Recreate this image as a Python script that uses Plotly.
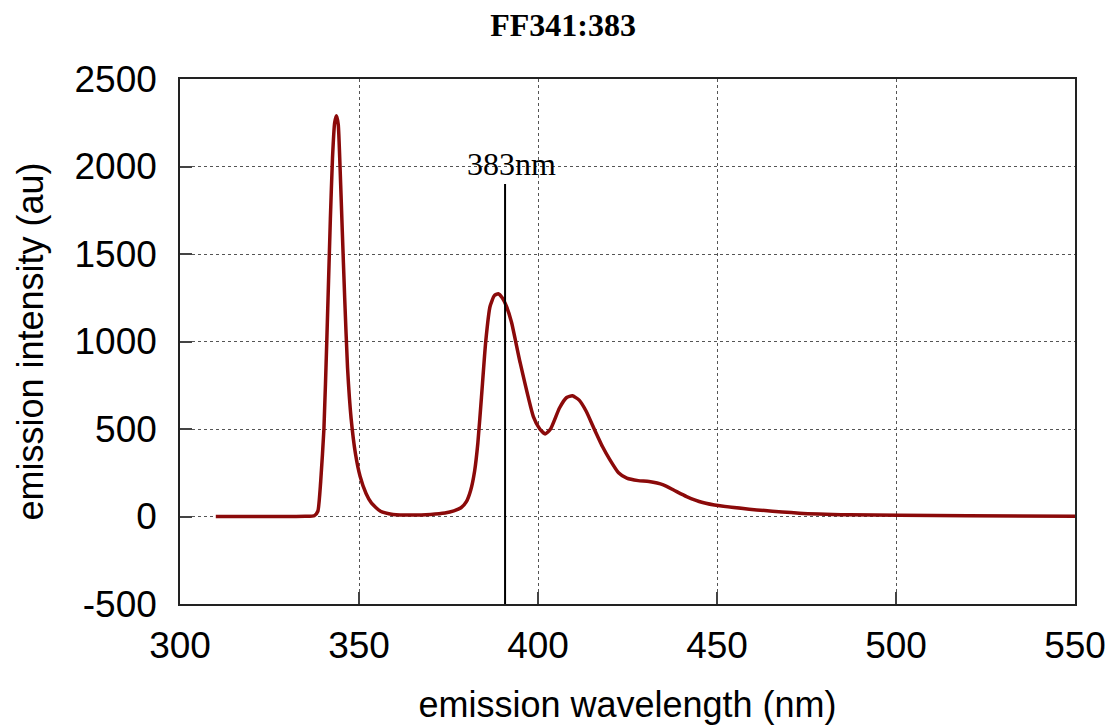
import plotly.graph_objects as go

# Emission spectrum
wavelength = [310, 320, 330, 335, 337.5, 338.5, 339.3, 340.2, 341.0, 342.0, 342.6, 343.2, 343.7,
              344.2, 344.7, 345.3, 346.0, 346.8, 347.8, 349.0, 350.3, 352.0, 353.5, 356.0, 359.5,
              365, 370, 374, 376.5, 378.5, 380.0, 381.2, 382.3, 383.2, 384.2, 385.4, 386.6,
              387.8, 388.9, 390.0, 391.2, 392.6, 395.0, 398.7, 400.5, 402.0, 403.5, 406.0,
              408.0, 409.6, 411.5, 413.5, 415.4, 418.0, 420.1, 422.5, 424.8, 428.0, 431.0,
              435.0, 438.0, 441.5, 446.0, 450.8, 459.0, 473.0, 487.0, 501.0, 520.0, 550.0]
intensity = [0, 0, 0, 1, 4, 30, 200, 500, 1000, 1700, 2050, 2250, 2290,
             2240, 2000, 1650, 1250, 850, 560, 360, 230, 130, 76, 30, 12,
             8, 12, 20, 32, 50, 85, 150, 260, 420, 680, 1000, 1200,
             1262, 1273, 1250, 1200, 1110, 880, 571, 500, 472, 500, 620,
             680, 690, 665, 600, 514, 400, 324, 250, 219, 205, 200,
             181, 150, 114, 80, 61, 42, 19, 10, 7, 4, 2]

marker_wl = 390.8
marker_top = 1900
marker_label = "383nm"

x_ticks = [300, 350, 400, 450, 500, 550]
y_ticks = [-500, 0, 500, 1000, 1500, 2000, 2500]
y_tick_text = ["-500", "0", "500", "1000", "1500", "2000", "2500"]

fig = go.Figure()
fig.add_trace(go.Scatter(
    x=wavelength, y=intensity, mode="lines",
    line=dict(color="#8b0a0a", width=3.5, shape="spline", smoothing=0.5),
    showlegend=False, hoverinfo="skip"))

fig.add_shape(type="line", x0=marker_wl, x1=marker_wl, y0=-500, y1=marker_top,
              xref="x", yref="y", line=dict(color="black", width=2))
fig.add_annotation(x=marker_wl + 1.7, y=2015, text=marker_label, showarrow=False,
                   font=dict(family="Liberation Serif, Times New Roman, serif", size=32, color="black"),
                   xanchor="center", yanchor="middle")

axis_common = dict(showline=True, mirror=True, linecolor="#222", linewidth=1.5,
                   ticks="inside", ticklen=12, tickcolor="#444", tickwidth=1.5,
                   showgrid=True, gridcolor="#555", griddash="dot", gridwidth=1,
                   zeroline=False, automargin=False,
                   tickfont=dict(family="Arial, Liberation Sans, sans-serif", size=37, color="black"),
                   title_font=dict(family="Arial, Liberation Sans, sans-serif", size=36, color="black"))

fig.update_xaxes(range=[300, 550], tickvals=x_ticks, ticklabelstandoff=8,
                 title_text="emission wavelength (nm)", title_standoff=28, **axis_common)
fig.update_yaxes(range=[-500, 2500], tickvals=y_ticks, ticktext=y_tick_text, ticklabelstandoff=14,
                 title_text="emission intensity (au)", title_standoff=20, **axis_common)

# page body has an 8px default margin, so the figure is sized to fill the rest of the window
fig.update_layout(
    width=1108, height=717,
    margin=dict(l=172, r=41, t=71, b=121),
    paper_bgcolor="white", plot_bgcolor="white",
    title=dict(text="<b>FF341:383</b>", x=0.501, xanchor="center", y=0.976, yanchor="middle",
               font=dict(family="Liberation Serif, Times New Roman, serif", size=32, color="black")),
)

fig.write_html("out.html")
